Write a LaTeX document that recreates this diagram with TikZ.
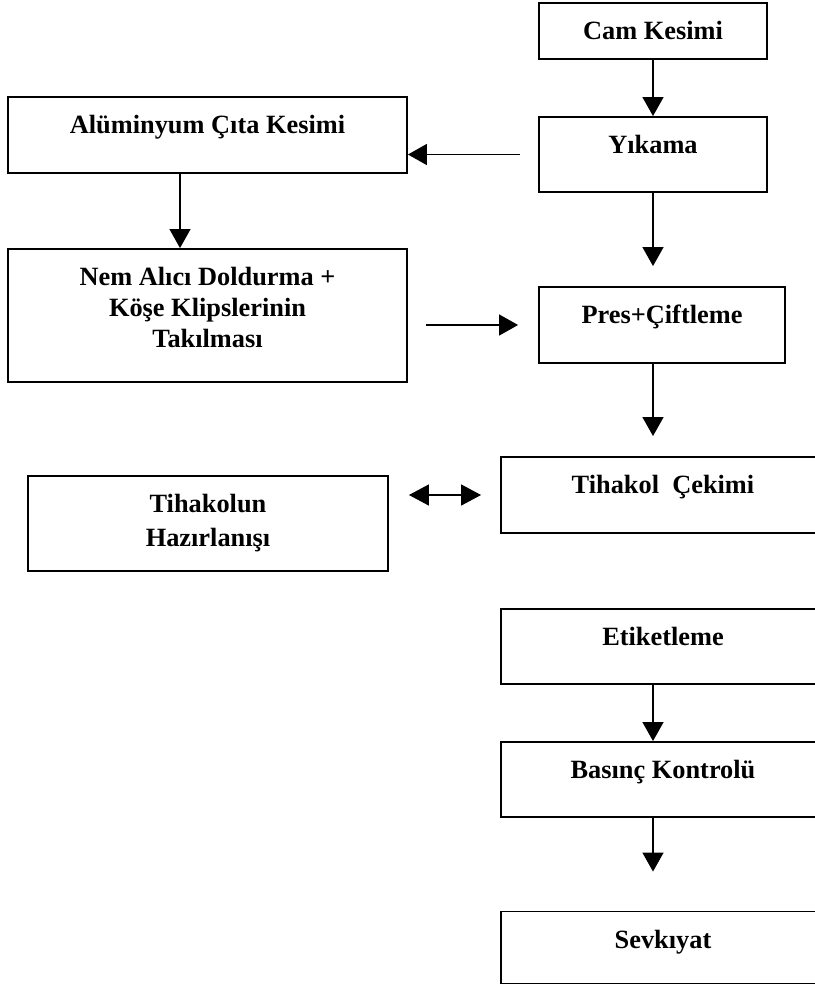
\documentclass[tikz,border=0pt]{standalone}
\usepackage{fontspec}
\setmainfont{Liberation Serif}
\usetikzlibrary{arrows.meta,calc}
\tikzset{
  kutu/.style={draw, line width=1.1pt, inner sep=0pt},
  yazi/.style={anchor=north, yshift=-0.38cm, inner sep=0pt, align=center,
    font=\fontsize{15}{17.6}\selectfont\bfseries},
  ok/.style={line width=0.8pt, -{Triangle[length=0.38cm,width=0.42cm]}},
  ciftok/.style={line width=0.8pt,
    {Triangle[length=0.4cm,width=0.42cm]}-{Triangle[length=0.4cm,width=0.42cm]}},
}
\begin{document}
\begin{tikzpicture}[x=0.02cm, y=-0.02cm]
\clip (0,0) rectangle (815,991);
% sag sutun
\node[kutu, minimum width=4.56cm, minimum height=1.12cm, label={[yazi]north:Cam Kesimi}] (cam) at (653,31) {};
\node[kutu, minimum width=4.56cm, minimum height=1.50cm, label={[yazi]north:Yıkama}] (yika) at (653,154.5) {};
\node[kutu, minimum width=4.92cm, minimum height=1.52cm, label={[yazi]north:Pres+Çiftleme}] (pres) at (662,325) {};
\node[kutu, minimum width=6.48cm, minimum height=1.52cm, label={[yazi]north:Tihakol\ \ Çekimi}] (tiha) at (663,495) {};
\node[kutu, minimum width=6.48cm, minimum height=1.50cm, label={[yazi]north:Etiketleme}] (etik) at (663,646.5) {};
\node[kutu, minimum width=6.48cm, minimum height=1.50cm, label={[yazi]north:Basınç Kontrolü}] (basinc) at (663,779.5) {};
\node[kutu, minimum width=6.48cm, minimum height=1.44cm, label={[yazi]north:Sevkıyat}] (sevk) at (663,947.5) {};
% sol sutun
\node[kutu, minimum width=7.98cm, minimum height=1.52cm, label={[yazi]north:Alüminyum Çıta Kesimi}] (alu) at (207.5,135) {};
\node[kutu, minimum width=7.98cm, minimum height=2.66cm,
  label={[yazi]north:{Nem Alıcı Doldurma +\\Köşe Klipslerinin\\Takılması}}] (nem) at (207.5,315.5) {};
\node[kutu, minimum width=7.20cm, minimum height=1.90cm,
  label={[yazi]north:{Tihakolun\\[1.7pt]Hazırlanışı}}] (thaz) at (208,523.5) {};
\coordinate (orta) at (653,0);

% oklar
\draw[ok] (cam) -- (yika);
\draw[ok] ($(yika.west)+(-0.36cm,0)$) -- (yika.west -| alu.east);
\draw[ok] ($(alu.south)+(-0.55cm,0)$) -- ($(nem.north)+(-0.55cm,0)$);
\draw[ok] (yika.south) -- ($(orta |- pres.north)+(0,0.4cm)$);
\draw[ok] ($(nem.east |- pres.west)+(0.36cm,0)$) -- ($(pres.west)+(-0.4cm,0)$);
\draw[ok] (orta |- pres.south) -- ($(orta |- tiha.north)+(0,0.4cm)$);
\draw[ciftok] ($(thaz.east |- tiha.west)+(0.4cm,0)$) -- ($(tiha.west)+(-0.38cm,0)$);
\draw[ok] (orta |- etik.south) -- (orta |- basinc.north);
\draw[ok] (orta |- basinc.south) -- ($(orta |- sevk.north)+(0,0.78cm)$);
\end{tikzpicture}
\end{document}
